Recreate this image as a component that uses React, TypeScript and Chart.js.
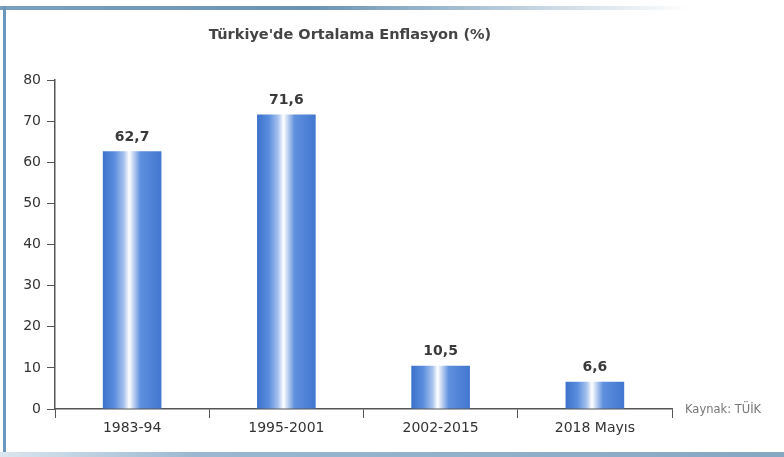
import React, { useEffect, useRef } from "react";
import { Chart, registerables } from "chart.js";

Chart.register(...registerables);

const categories = ["1983-94", "1995-2001", "2002-2015", "2018 Mayıs"];
const inflation = [62.7, 71.6, 10.5, 6.6];
const yTicks = [0, 10, 20, 30, 40, 50, 60, 70, 80];
const titleText = "Türkiye'de Ortalama Enflasyon (%)";
const sourceText = "Kaynak: TÜİK";

const FONT = "'DejaVu Sans', Verdana, sans-serif";
const BAR_PCT = 0.38;

export default function App() {
  const ref = useRef<HTMLCanvasElement | null>(null);

  useEffect(() => {
    if (!ref.current) return;

    const barFill = (ctx: any) => {
      const chart = ctx.chart;
      const xs = chart.scales?.x;
      if (!xs || ctx.dataIndex === undefined) return "#4f82d4";
      const cx = xs.getPixelForValue(ctx.dataIndex);
      const w = (xs.width / categories.length) * BAR_PCT;
      if (!isFinite(cx) || !isFinite(w) || w <= 0) return "#4f82d4";
      const g = chart.ctx.createLinearGradient(cx - w / 2, 0, cx + w / 2, 0);
      g.addColorStop(0, "#3c72cc");
      g.addColorStop(0.2, "#5a8ddd");
      g.addColorStop(0.36, "#a7c2ee");
      g.addColorStop(0.45, "#ffffff");
      g.addColorStop(0.54, "#b3c9ef");
      g.addColorStop(0.64, "#5e90de");
      g.addColorStop(1, "#4277d0");
      return g;
    };

    const overlay = {
      id: "overlay",
      afterDatasetsDraw(chart: any) {
        const c = chart.ctx;
        const meta = chart.getDatasetMeta(0);
        c.save();
        c.fillStyle = "#3a3a3a";
        c.font = `bold 14px ${FONT}`;
        c.textAlign = "center";
        c.textBaseline = "bottom";
        meta.data.forEach((el: any, i: number) => {
          c.fillText(String(inflation[i]).replace(".", ","), el.x, el.y - 7);
        });
        c.fillStyle = "#444";
        c.font = `bold 14.5px ${FONT}`;
        c.textBaseline = "middle";
        c.fillText(titleText, 350, 35);
        c.fillStyle = "#777";
        c.font = `11.5px ${FONT}`;
        c.textAlign = "left";
        c.fillText(sourceText, chart.chartArea.right + 13, chart.chartArea.bottom + 1);
        c.restore();
      },
    };

    const chart = new Chart(ref.current, {
      type: "bar",
      data: {
        labels: categories,
        datasets: [
          {
            data: inflation,
            backgroundColor: barFill,
            borderWidth: 0,
            barPercentage: BAR_PCT,
            categoryPercentage: 1,
          },
        ],
      },
      options: {
        animation: false,
        responsive: false,
        maintainAspectRatio: false,
        layout: { padding: { top: 80, right: 112, bottom: 0, left: 0 } },
        plugins: {
          legend: { display: false },
          tooltip: { enabled: false },
          title: { display: false },
        },
        scales: {
          x: {
            grid: {
              offset: true,
              drawOnChartArea: false,
              drawTicks: true,
              tickLength: 9,
              color: "#555",
              lineWidth: 1,
            },
            border: { color: "#555", width: 1.5 },
            ticks: {
              color: "#333",
              font: { family: FONT, size: 14 },
              padding: 2,
            },
            afterFit: (s: any) => {
              s.height = 48;
            },
          },
          y: {
            min: 0,
            max: 80,
            afterBuildTicks: (s: any) => {
              s.ticks = yTicks.map((v) => ({ value: v }));
            },
            grid: {
              drawOnChartArea: false,
              drawTicks: true,
              tickLength: 8,
              color: "#555",
            },
            border: { color: "#555", width: 1.5 },
            ticks: {
              color: "#333",
              font: { family: FONT, size: 14 },
              padding: 6,
            },
            afterFit: (s: any) => {
              s.width = 55;
            },
          },
        },
      },
      plugins: [overlay],
    });

    return () => chart.destroy();
  }, []);

  return (
    <div
      style={{
        position: "fixed",
        left: 0,
        top: 0,
        width: 784,
        height: 457,
        background: "#fff",
        overflow: "hidden",
      }}
    >
      <div
        style={{
          position: "absolute",
          left: 0,
          top: 6,
          width: 784,
          height: 4,
          background: "linear-gradient(to right, #7aa0bd, #6a93b3 40%, #c9d8e4 70%, #ffffff 88%)",
        }}
      />
      <div
        style={{
          position: "absolute",
          left: 3,
          top: 6,
          width: 3,
          height: 451,
          background: "#6b96bd",
        }}
      />
      <div
        style={{
          position: "absolute",
          left: 0,
          top: 452,
          width: 784,
          height: 5,
          background: "linear-gradient(to right, #dbe6ef, #9bb8d0 25%, #86a7c4 100%)",
        }}
      />
      <canvas
        ref={ref}
        width={784}
        height={457}
        style={{ position: "absolute", left: 0, top: 0, width: 784, height: 457 }}
      />
    </div>
  );
}
